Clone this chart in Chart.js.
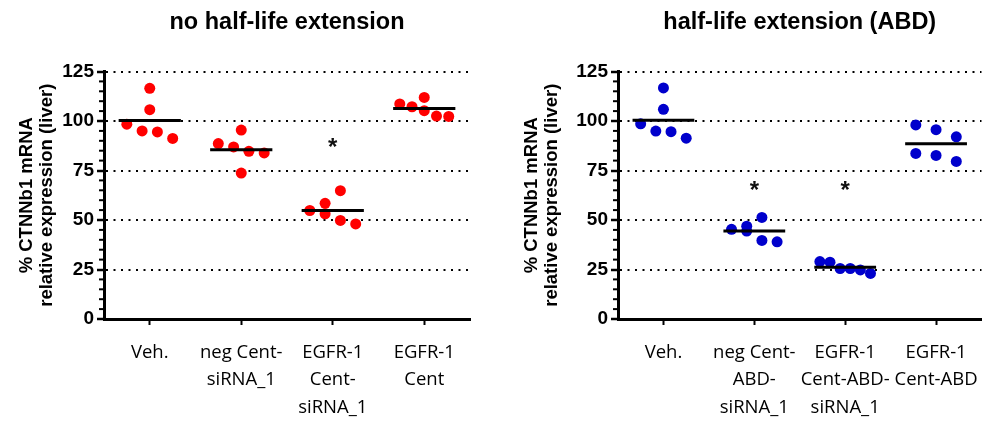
<!DOCTYPE html>
<html>
<head>
<meta charset="utf-8">
<script src="https://cdn.jsdelivr.net/npm/chart.js@4.4.1/dist/chart.umd.min.js"></script>
<style>
  html, body { margin: 0; padding: 0; background: #fff; }
  #leftChart { position: absolute; left: 0; top: 0; }
  #rightChart { position: absolute; left: 505px; top: 0; }
</style>
</head>
<body>
<canvas id="leftChart" width="490" height="421"></canvas>
<canvas id="rightChart" width="488" height="421"></canvas>
<script>
// categories
var labelsLeft = [["Veh."], ["neg Cent-", "siRNA_1"], ["EGFR-1", "Cent-", "siRNA_1"], ["EGFR-1", "Cent"]];
var labelsRight = [["Veh."], ["neg Cent-", "ABD-", "siRNA_1"], ["EGFR-1", "Cent-ABD-", "siRNA_1"], ["EGFR-1", "Cent-ABD"]];

// values, no half-life extension
var vehicle = [98.4, 95.0, 94.5, 91.2, 105.7, 116.5];
var negCent = [88.6, 86.9, 84.7, 83.9, 95.4, 73.7];
var egfrCentSiRNA = [54.8, 58.4, 53.1, 64.8, 49.8, 48.0];
var egfrCent = [108.6, 107.2, 111.9, 105.2, 102.5, 102.3];

// values, half-life extension (ABD)
var vehicleABD = [98.6, 94.9, 94.6, 91.3, 105.9, 116.7];
var negCentABD = [45.3, 46.9, 44.4, 51.3, 39.7, 39.0];
var egfrCentABDSiRNA = [28.7, 25.5, 25.5, 29.0, 24.8, 23.0];
var egfrCentABD = [95.6, 92.0, 98.0, 83.6, 82.6, 79.6];

// significance marks (height of the asterisk)
var starsLeft = [null, null, 88, null];
var starsRight = [null, 66.5, 66.5, null];

var yMax = 125;
var yStep = 25;

Chart.defaults.font.family = '"Liberation Sans", Arial, sans-serif';
Chart.defaults.color = '#000';

function mean(arr) {
  var s = 0;
  arr.forEach(function (v) { s += v; });
  return s / arr.length;
}

// GraphPad style column scatter: close values share a row, rows snake sideways
function columnScatter(values, center) {
  var sorted = values.slice().sort(function (a, b) { return a - b; });
  var rows = [], row = [], dir = -1;
  sorted.forEach(function (v) {
    if (row.length && v - row[0] >= 7.5) {
      rows.push({ pts: row, dir: dir });
      dir = (v - row[row.length - 1] < 5.5) ? -dir : -1;
      row = [];
    }
    row.push(v);
  });
  rows.push({ pts: row, dir: dir });
  var maxRow = 1;
  rows.forEach(function (r) { maxRow = Math.max(maxRow, r.pts.length); });
  var step = Math.min(20.5, 61.5 / maxRow) / 92;
  var out = [];
  rows.forEach(function (r) {
    var n = r.pts.length;
    r.pts.forEach(function (v, j) {
      out.push({ x: center + r.dir * (j - (n - 1) / 2) * step, y: v });
    });
  });
  return out;
}

var marksPlugin = {
  id: 'marks',
  afterDraw: function (chart, args, opts) {
    var ctx = chart.ctx, xs = chart.scales.x, ys = chart.scales.y;
    var left = chart.chartArea.left;
    ctx.save();
    // minor ticks on the y axis
    ctx.strokeStyle = '#000';
    ctx.lineWidth = 2;
    for (var v = 5; v < yMax; v += 5) {
      if (v % yStep === 0) continue;
      var py = ys.getPixelForValue(v);
      ctx.beginPath();
      ctx.moveTo(left - 5, py);
      ctx.lineTo(left, py);
      ctx.stroke();
    }
    // asterisks
    ctx.font = 'bold 24px "Liberation Sans", Arial, sans-serif';
    ctx.textAlign = 'center';
    ctx.textBaseline = 'middle';
    ctx.fillStyle = '#111';
    opts.stars.forEach(function (s, i) {
      if (s == null) return;
      ctx.fillText('*', xs.getPixelForValue(i), ys.getPixelForValue(s) + 4);
    });
    ctx.restore();
  }
};

function makeChart(id, title, labels, groups, color, stars, axisWidth, padRight) {
  var points = [];
  var means = [];
  groups.forEach(function (vals, i) {
    points = points.concat(columnScatter(vals, i));
    var m = mean(vals);
    means.push({ x: i - 0.34, y: m }, { x: i + 0.34, y: m }, { x: i + 0.5, y: null });
  });

  return new Chart(document.getElementById(id), {
    type: 'scatter',
    data: {
      datasets: [
        {
          type: 'line',
          data: means,
          borderColor: '#000',
          borderWidth: 3,
          borderCapStyle: 'butt',
          pointRadius: 0,
          spanGaps: false,
          fill: false,
          order: 0
        },
        {
          data: points,
          backgroundColor: color,
          borderColor: color,
          borderWidth: 0,
          pointRadius: 5.5,
          order: 1
        }
      ]
    },
    options: {
      responsive: false,
      animation: false,
      layout: { padding: { left: 0, right: padRight, top: 0, bottom: 0 } },
      plugins: {
        legend: { display: false },
        tooltip: { enabled: false },
        title: {
          display: true,
          text: title,
          fullSize: false,
          font: { size: 23.5, weight: 'bold' },
          color: '#000',
          padding: { top: 8.6, bottom: 34.7 }
        },
        marks: { stars: stars }
      },
      scales: {
        x: {
          type: 'linear',
          min: -0.5,
          max: 3.5,
          afterBuildTicks: function (scale) {
            scale.ticks = labels.map(function (l, i) { return { value: i }; });
          },
          afterFit: function (scale) { scale.height = 102; },
          ticks: {
            autoSkip: false,
            maxRotation: 0,
            padding: 14,
            font: { family: '"Open Sans", sans-serif', size: 18.5, lineHeight: 1.48 },
            color: '#000',
            callback: function (value) { return labels[value]; }
          },
          grid: {
            drawOnChartArea: false,
            color: '#000',
            tickColor: '#000',
            tickLength: 6,
            tickWidth: 2
          },
          border: { display: true, color: '#000', width: 3 }
        },
        y: {
          min: 0,
          max: yMax,
          afterFit: function (scale) { scale.width = axisWidth; },
          ticks: {
            stepSize: yStep,
            padding: 3,
            font: { size: 19, weight: 'bold' },
            color: '#000'
          },
          grid: {
            color: function (c) { return c.tick && c.tick.value > 0 ? '#000' : 'rgba(0,0,0,0)'; },
            lineWidth: 2,
            tickColor: '#000',
            tickLength: 7,
            tickWidth: 2.5
          },
          border: { display: true, color: '#000', width: 3, dash: [2, 5.5] },
          title: {
            display: true,
            text: ['% CTNNb1 mRNA', 'relative expression (liver)'],
            font: { size: 18.5, weight: 'bold', lineHeight: 1.05 },
            color: '#000',
            padding: { top: 17.5, bottom: 0 }
          }
        }
      }
    },
    plugins: [marksPlugin]
  });
}

makeChart('leftChart', 'no half-life extension', labelsLeft,
  [vehicle, negCent, egfrCentSiRNA, egfrCent], '#FF0000', starsLeft, 104, 20);
makeChart('rightChart', 'half-life extension (ABD)', labelsRight,
  [vehicleABD, negCentABD, egfrCentABDSiRNA, egfrCentABD], '#0000CC', starsRight, 113, 6);
</script>
</body>
</html>
